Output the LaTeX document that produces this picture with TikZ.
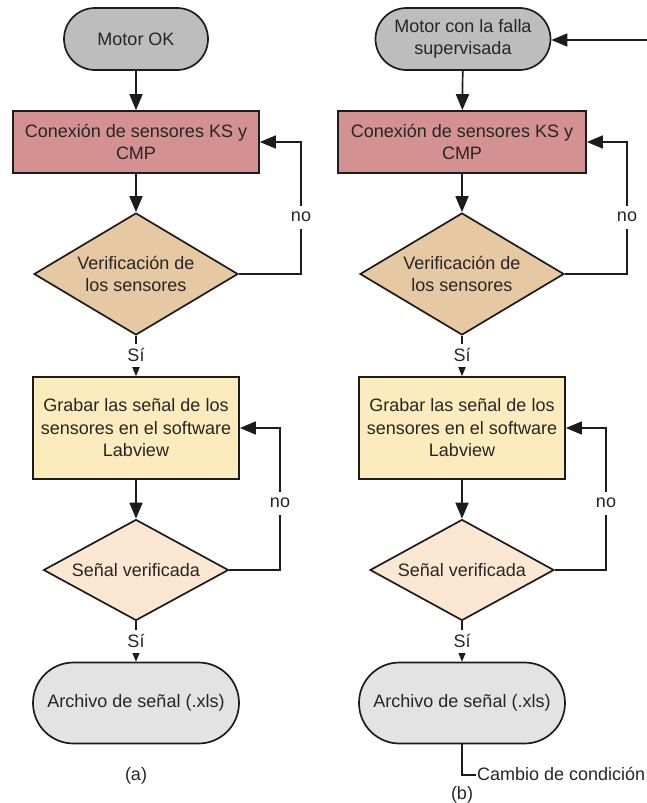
\documentclass[tikz,border=0pt]{standalone}
\usepackage{fontspec}
\setmainfont{Liberation Sans}
\usetikzlibrary{shapes.geometric,shapes.misc,arrows.meta}
\definecolor{pillgray}{HTML}{BDBDBD}
\definecolor{rosebox}{HTML}{D39191}
\definecolor{tandia}{HTML}{E6C9A2}
\definecolor{paleyellow}{HTML}{FCEBBC}
\definecolor{peachdia}{HTML}{FCE7D2}
\definecolor{lightpill}{HTML}{E3E3E3}
\definecolor{txt}{HTML}{262626}
\definecolor{edge}{HTML}{1C1C1C}
\begin{document}
\begin{tikzpicture}[x=1pt,y=-1pt,
  font=\fontsize{18}{22.5}\selectfont, text=txt,
  base/.style={draw=edge, line width=1.7pt, align=center, inner sep=0pt},
  pill/.style={base, rounded rectangle},
  boxnode/.style={base, rectangle},
  dia/.style={base, diamond},
  arr/.style={draw=edge, line width=1.7pt, -{Triangle[length=16pt,width=13pt]}},
  conn/.style={draw=edge, line width=1.7pt},
  lbl/.style={fill=white, inner sep=2pt, minimum height=23pt, text=txt},
  captxt/.style={inner sep=0pt, text=txt}]
\useasboundingbox (0,0) rectangle (647,803);

% ---------- (a) ----------
\node[pill, fill=pillgray, minimum width=144pt, minimum height=62pt] (a1) at (136,39) {Motor OK};
\node[boxnode, fill=rosebox, minimum width=246pt, minimum height=62pt] (a2) at (136,142) {Conexión de sensores KS y\\CMP};
\node[dia, fill=tandia, aspect=1.67, minimum width=204pt, minimum height=122pt] (a3) at (136,274) {Verificación de\\los sensores};
\node[boxnode, fill=paleyellow, minimum width=206pt, minimum height=102pt] (a4) at (136,428) {Grabar las señal de los\\sensores en el software\\Labview};
\node[dia, fill=peachdia, aspect=1.83, minimum width=185pt, minimum height=101pt] (a5) at (136,570) {Señal verificada};
\node[pill, fill=lightpill, minimum width=206pt, minimum height=81pt] (a6) at (136,703) {Archivo de señal (.xls)};
\coordinate (la1) at (301,0);
\coordinate (la2) at (280,0);

\draw[arr] (a1) -- (a2);
\draw[arr] (a2) -- (a3);
\draw[arr] (a3) -- (a4);
\draw[arr] (a4) -- (a5);
\draw[arr] (a5) -- (a6);
\draw[arr] (a3.east) -- (a3.east -| la1) |- (a2.east);
\draw[arr] (a5.east) -- (a5.east -| la2) |- (a4.east);
\node[lbl] (ano1) at (301,217) {no};
\node[lbl] (ano2) at (280,503) {no};
\node[lbl] (asi1) at (136,355) {Sí};
\node[lbl] (asi2) at (136,641) {Sí};
\node[captxt] (acap) at (136,776) {(a)};

% ---------- (b) ----------
\node[pill, fill=pillgray, minimum width=175pt, minimum height=62pt] (b1) at (463,39) {Motor con la falla\\supervisada};
\node[boxnode, fill=rosebox, minimum width=248pt, minimum height=62pt] (b2) at (462,142) {Conexión de sensores KS y\\CMP};
\node[dia, fill=tandia, aspect=1.67, minimum width=204pt, minimum height=122pt] (b3) at (462,274) {Verificación de\\los sensores};
\node[boxnode, fill=paleyellow, minimum width=206pt, minimum height=102pt] (b4) at (462,428) {Grabar las señal de los\\sensores en el software\\Labview};
\node[dia, fill=peachdia, aspect=1.83, minimum width=184pt, minimum height=101pt] (b5) at (462,570) {Señal verificada};
\node[pill, fill=lightpill, minimum width=206pt, minimum height=81pt] (b6) at (462,703) {Archivo de señal (.xls)};
\coordinate (lb1) at (627,0);
\coordinate (lb2) at (606,0);
\coordinate (bin) at (647,40);
\coordinate (bturn) at (462,775);

\draw[arr] (bin) -- (b1.east |- bin);
\draw[arr] (b1) -- (b2);
\draw[arr] (b2) -- (b3);
\draw[arr] (b3) -- (b4);
\draw[arr] (b4) -- (b5);
\draw[arr] (b5) -- (b6);
\draw[arr] (b3.east) -- (b3.east -| lb1) |- (b2.east);
\draw[arr] (b5.east) -- (b5.east -| lb2) |- (b4.east);
\node[lbl] (bno1) at (627,217) {no};
\node[lbl] (bno2) at (606,503) {no};
\node[lbl] (bsi1) at (462,355) {Sí};
\node[lbl] (bsi2) at (462,641) {Sí};
\node[captxt, anchor=west, inner sep=1pt] (bchg) at (476,774) {Cambio de condición};
\draw[conn] (b6.south) -- (bturn) -- (bchg.west |- bturn);
\node[captxt] (bcap) at (462,795) {(b)};
\end{tikzpicture}
\end{document}
